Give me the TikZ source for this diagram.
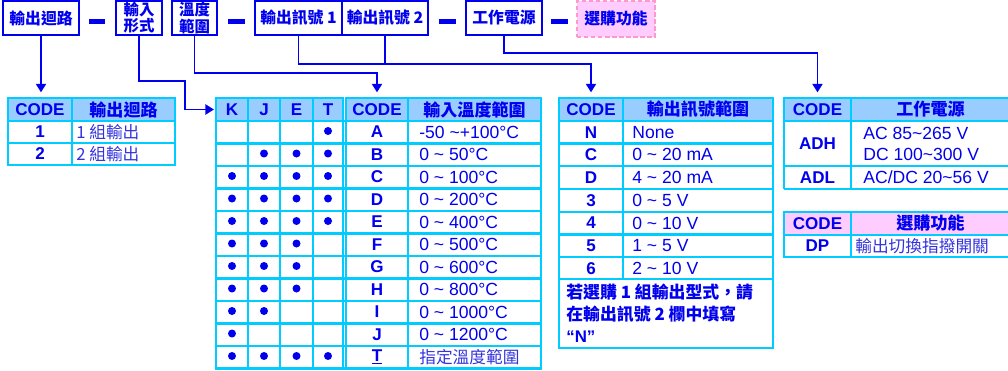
\documentclass[tikz,border=0pt]{standalone}
\usepackage{fontspec}
\setmainfont{Liberation Sans}
\newfontfamily\cjk{Noto Sans CJK TC}
\usetikzlibrary{arrows.meta}
\definecolor{ink}{HTML}{0000EE}
\definecolor{inklt}{HTML}{3333DD}
\definecolor{cyanline}{HTML}{00CCFF}
\definecolor{headblue}{HTML}{99CCFF}
\definecolor{optpink}{HTML}{FFCCFF}
\definecolor{optline}{HTML}{FF99CC}
\newcommand{\setsz}[1]{\fontsize{#1}{#1}\selectfont}

\begin{document}
\begin{tikzpicture}[x=0.02cm,y=-0.02cm,
    every node/.style={inner sep=0pt,text=ink},
    topbox/.style={draw=ink,line width=1.1pt,minimum height=0.68cm,align=center,font=\cjk\bfseries\setsz{9}},
    twoline/.style={font=\cjk\bfseries\fontsize{8.8}{9.2}\selectfont},
    bar/.style={fill=ink,minimum width=0.34cm,minimum height=0.1cm},
    conn/.style={draw=ink,line width=1.1pt},
    arr/.style={conn,-{Triangle[width=0.2cm,length=0.17cm]},shorten >=0.09cm},
    gline/.style={draw=cyanline,line width=1.3pt},
    hcell/.style={gline,fill=headblue,minimum height=0.46cm,font=\cjk\bfseries\setsz{9.7}},
    pcell/.style={hcell,fill=optpink},
    latin/.style={font=\bfseries\setsz{9.7}},
    codetxt/.style={font=\bfseries\setsz{9.7}},
    valtxt/.style={anchor=west,font=\setsz{10}},
    desc/.style={anchor=west,text=inklt,font=\cjk\setsz{9.5}}]
  \useasboundingbox (0,0) rectangle (1008,370);

  % order code boxes
  \node[topbox,minimum width=1.52cm] (loop) at (41,18) {輸出迴路};
  \node[bar] (bar1) at (97,21.5) {};
  \node[topbox,twoline,minimum width=0.92cm] (form) at (139,18) {輸入\\形式};
  \node[topbox,twoline,minimum width=0.9cm] (range) at (194.5,18) {溫度\\範圍};
  \node[bar] (bar2) at (236.5,21.5) {};
  \node[topbox,minimum width=1.74cm] (sig1) at (298.5,18) {輸出訊號 1};
  \node[topbox,minimum width=1.72cm] (sig2) at (385,18) {輸出訊號 2};
  \node[bar] (bar3) at (447,21.5) {};
  \node[topbox,minimum width=1.52cm] (power) at (504,18) {工作電源};
  \node[bar] (bar4) at (559.5,21.5) {};
  \node[topbox,draw=optline,fill=optpink,dash pattern=on 2.5pt off 1.5pt,
        minimum width=1.56cm,minimum height=0.72cm] (opt) at (616,19) {選購功能};

  % output loop table
  \draw[gline] (8,121) rectangle (175,165);
  \draw[gline] (72,121) -- (72,165) (8,143) -- (175,143);
  \node[hcell,latin,minimum width=1.28cm] (t1code) at (40,109.5) {CODE};
  \node[hcell,minimum width=2.06cm] (t1head) at (123.5,109.5) {輸出迴路};
  \node[codetxt] (t1c1) at (40,132) {1};
  \node[desc] (t1d1) at (76,132) {1 組輸出};
  \node[codetxt] (t1c2) at (40,154) {2};
  \node[desc] (t1d2) at (76,154) {2 組輸出};

  % input type / range table
  \draw[gline] (216,121) rectangle (541,368.5);
  \foreach \y in {143.5,166,...,346}
    \draw[gline] (216,\y) -- (541,\y);
  \foreach \x in {248,280,313,343,346,408}
    \draw[gline] (\x,121) -- (\x,368.5);
  \node[hcell,latin,minimum width=0.64cm] (t2k) at (232,109.5) {K};
  \node[hcell,latin,minimum width=0.64cm] (t2j) at (264,109.5) {J};
  \node[hcell,latin,minimum width=0.66cm] (t2e) at (296.5,109.5) {E};
  \node[hcell,latin,minimum width=0.6cm] (t2t) at (328,109.5) {T};
  \node[hcell,latin,minimum width=1.24cm] (t2code) at (377,109.5) {CODE};
  \node[hcell,minimum width=2.66cm] (t2head) at (474.5,109.5) {輸入溫度範圍};
  \foreach \c/\r/\mk/\mj/\me/\mt [count=\i] in {
      A/{-50 \textasciitilde+100°C}/0/0/0/1,
      B/{0 \textasciitilde{} 50°C}/0/1/1/1,
      C/{0 \textasciitilde{} 100°C}/1/1/1/1,
      D/{0 \textasciitilde{} 200°C}/1/1/1/1,
      E/{0 \textasciitilde{} 400°C}/1/1/1/1,
      F/{0 \textasciitilde{} 500°C}/1/1/1/0,
      G/{0 \textasciitilde{} 600°C}/1/1/1/0,
      H/{0 \textasciitilde{} 800°C}/1/1/1/0,
      I/{0 \textasciitilde{} 1000°C}/1/1/0/0,
      J/{0 \textasciitilde{} 1200°C}/1/0/0/0,
      \underline{T}/{\color{inklt}\cjk\setsz{9.5}指定溫度範圍}/1/1/1/1}
  {
    \pgfmathsetmacro\yc{109.5+22.5*\i}
    \node[codetxt] (t2c\i) at (377,\yc) {\c};
    \node[valtxt] (t2v\i) at (419,\yc) {\r};
    \foreach \m/\x in {\mk/232,\mj/264,\me/296.5,\mt/328}
      {\ifnum\m=1 \fill[ink] (\x,\yc-1) circle (0.08cm);\fi}
  }

  % output signal table
  \draw[gline] (559,121) rectangle (773,348);
  \draw[gline] (623,121) -- (623,279);
  \foreach \y in {143.5,166,189,212,234.5,257,279}
    \draw[gline] (559,\y) -- (773,\y);
  \node[hcell,latin,minimum width=1.28cm] (t3code) at (591,109.5) {CODE};
  \node[hcell,minimum width=3cm] (t3head) at (698,109.5) {輸出訊號範圍};
  \foreach \c/\r [count=\i] in {N/None,
      C/{0 \textasciitilde{} 20 mA}, D/{4 \textasciitilde{} 20 mA},
      3/{0 \textasciitilde{} 5 V}, 4/{0 \textasciitilde{} 10 V},
      5/{1 \textasciitilde{} 5 V}, 6/{2 \textasciitilde{} 10 V}}
  {
    \pgfmathsetmacro\yc{109.5+22.7*\i}
    \node[codetxt] (t3c\i) at (591,\yc) {\c};
    \node[valtxt] (t3v\i) at (632,\yc) {\r};
  }
  \node[anchor=north west,align=left,font=\cjk\bfseries\fontsize{9.6}{12.5}\selectfont]
    (t3note) at (566,284) {若選購 1 組輸出型式，請\\在輸出訊號 2 欄中填寫\\{\normalfont\bfseries “N”}};

  % power table
  \draw[gline] (784,121) -- (784,189) (851,121) -- (851,189)
               (784,166) -- (1010,166) (784,189) -- (1010,189);
  \node[hcell,latin,minimum width=1.34cm] (t4code) at (817.5,109.5) {CODE};
  \node[hcell,minimum width=3.18cm] (t4head) at (930.5,109.5) {工作電源};
  \node[codetxt] (t4c1) at (817.5,143.5) {ADH};
  \node[valtxt] (t4v1) at (863,133) {AC 85\textasciitilde265 V};
  \node[valtxt] (t4v2) at (863,154) {DC 100\textasciitilde300 V};
  \node[codetxt] (t4c2) at (817.5,177.5) {ADL};
  \node[valtxt] (t4v3) at (863,177.5) {AC/DC 20\textasciitilde56 V};

  % option table
  \draw[gline] (784,235) -- (784,257) -- (1010,257) (851,235) -- (851,257);
  \node[pcell,latin,minimum width=1.34cm] (t5code) at (817.5,223.5) {CODE};
  \node[pcell,minimum width=3.18cm] (t5head) at (930.5,223.5) {選購功能};
  \node[codetxt] (t5c1) at (817.5,246) {DP};
  \node[desc] (t5d1) at (855,246) {輸出切換指撥開關};

  % connectors
  \draw[arr] (loop.south) -- (loop.south |- t1code.north);
  \coordinate (formbend) at (185,81);
  \draw[arr,shorten >=0.5pt] (form.south) |- (formbend) |- (t2k.west);
  \draw[arr] (range.south) -- ++(0,37) -| (t2code.north);
  \draw[arr] (sig1.south) -- ++(0,28) -| (t3code.north);
  \draw[conn] (sig2.south) -- ++(0,28);
  \draw[arr] (power.south) -- ++(0,17) -| (t4code.north);
\end{tikzpicture}
\end{document}
